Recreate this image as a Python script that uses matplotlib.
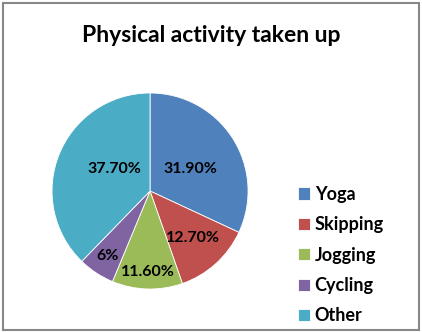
import numpy as np
import matplotlib.pyplot as plt
from matplotlib.patches import Rectangle

categories = ["Yoga", "Skipping", "Jogging", "Cycling", "Other"]
shares = [31.9, 12.7, 11.6, 6.0, 37.7]
pct_labels = ["31.90%", "12.70%", "11.60%", "6%", "37.70%"]
colors = ["#4F81BD", "#C0504D", "#9BBB59", "#8064A2", "#4BACC6"]

# label placement tweaks (radius fraction, angle shift in degrees)
label_r = [0.47, 0.65, 0.83, 0.79, 0.43]
label_shift = [-4, 0, 0, 0, -10]

plt.rcParams['font.family'] = ['Lato', 'DejaVu Sans']

fig = plt.figure(figsize=(4.22, 3.32), dpi=100)
fig.patch.set_facecolor("white")
fig.add_artist(Rectangle((0.006, 0.007), 0.988, 0.985, transform=fig.transFigure,
                         fill=False, edgecolor="#878787", linewidth=1.5))

fig.text(0.5, 0.893, "Physical activity taken up", ha="center", va="center",
         fontsize=16.5, fontweight="bold", color="black")

ax = fig.add_axes([0.3555 - 0.2322, 0.4247 - 0.2952, 0.4645, 0.5904])
wedges, _ = ax.pie(shares, colors=colors, startangle=90, counterclock=False,
                   radius=1, wedgeprops=dict(edgecolor="white", linewidth=0.6))
ax.set_xlim(-1, 1)
ax.set_ylim(-1, 1)
ax.set_aspect("equal")
ax.axis("off")

for w, lab, r, sh in zip(wedges, pct_labels, label_r, label_shift):
    mid = np.deg2rad((w.theta1 + w.theta2) / 2 + sh)
    ax.text(r * np.cos(mid), r * np.sin(mid), lab, ha="center", va="center",
            fontsize=11.5, fontweight="bold", color="black")

leg = fig.legend(wedges, categories, loc="upper left", bbox_to_anchor=(0.69, 0.462),
                 frameon=False, prop=dict(size=13, weight="bold"),
                 handlelength=0.65, handleheight=0.65, handletextpad=0.25,
                 labelspacing=0.74, borderaxespad=0)

fig.savefig("out.png", dpi=100)
